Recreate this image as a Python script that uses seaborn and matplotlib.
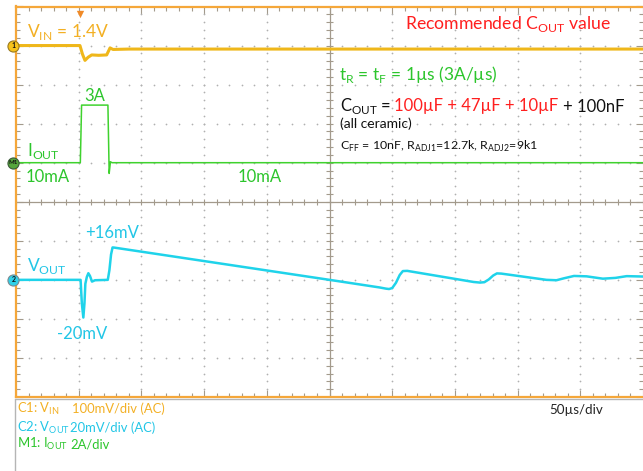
import numpy as np
import pandas as pd
import matplotlib
matplotlib.use("Agg")
import matplotlib.pyplot as plt
import seaborn as sns
from matplotlib.lines import Line2D

# scope settings
T_PER_DIV = 50      # us/div
VIN_PER_DIV = 100   # mV/div
VOUT_PER_DIV = 20   # mV/div
IOUT_PER_DIV = 2    # A/div
VIN_POS, IOUT_POS, VOUT_POS = 9, 6, 3   # channel offsets, divisions from bottom

# captured traces, time in us
vin_t = [0, 51.0, 53.0, 55.0, 57.5, 60.4, 66.0, 72.3, 75.0, 77.4, 90, 200, 500]
vin_mv = [0, 0, -22, -38, -30, -24, -25, -24, -6, -10, -9, -9, -9]

iout_t = [0, 51.3, 52.3, 73.3, 74.3, 75.3, 76.5, 500]
iout_a = [0, 0, 2.95, 2.95, -0.55, 0.05, 0, 0]

vout_t = [0, 51.5, 52.5, 53.7, 54.6, 55.3, 56.5, 57.7, 59.0, 60.6, 63.0, 73.2, 74.5,
          75.8, 77.0, 78.5, 250, 290, 295, 297.5, 300, 303, 306, 308.5, 312, 365,
          370, 373.5, 377, 380.5, 383.5, 387, 423, 431, 437, 445, 455, 468, 478,
          487, 500]
vout_mv = [0, 0, -12, -19.3, -12, -2, 1.5, 3.4, 2, -0.9, -0.2, 0, 5,
           13, 16.6, 16.5, 0, -3.9, -4.5, -4.7, -4.2, -1.5, 2.5, 4.5, 4.6, -1.1,
           -1.4, -1.2, 0.2, 2.2, 3.3, 3.2, 0, -0.2, 0.8, 2.0, 1.8, 0.6, 1.0,
           1.9, 1.7]

# colours
YELLOW = "#efb71a"
YEL_TXT = "#f3b024"
GREEN = "#3fd22e"
GRN_TXT = "#2cc52c"
CYAN = "#1fd3ea"
CYA_TXT = "#22c6e6"
RED = "#ff1f1f"
FRAME = "#f5a73a"
GRID = "#a39a8c"
DOT = "#b0b0b0"

W, H = 643, 471


def fx(px):
    return px / W


def fy(py):
    return 1 - py / H


sns.set_style("white")
plt.rcParams["font.family"] = ["Lato", "DejaVu Sans"]

fig = plt.figure(figsize=(W / 100, H / 100), dpi=100)
ax = fig.add_axes([fx(16), fy(397), (W - 16) / W, (397 - 6.5) / H])
ax.set_xlim(0, 10 * T_PER_DIV)
ax.set_ylim(0, 10)

# graticule: dotted divisions, solid centre lines with small ticks
xs = np.arange(0, 10 * T_PER_DIV + 1, T_PER_DIV / 5)
ys = np.arange(0, 10.01, 0.2)
for k in range(1, 10):
    if k == 5:
        continue
    ax.scatter(xs, np.full(len(xs), float(k)), s=1.6, c=DOT, lw=0, zorder=1)
    ax.scatter(np.full(len(ys), k * T_PER_DIV), ys, s=1.6, c=DOT, lw=0, zorder=1)
ax.axvline(5 * T_PER_DIV, color=GRID, lw=0.9, zorder=1)
ax.axhline(5, color=GRID, lw=0.9, zorder=1)
ax.vlines(xs, 5 - 0.08, 5 + 0.08, color=GRID, lw=0.8, zorder=1)
ax.hlines(ys, 5 * T_PER_DIV - 2.4, 5 * T_PER_DIV + 2.4, color=GRID, lw=0.8, zorder=1)

ax.set_xticks(np.arange(0, 501, T_PER_DIV))
ax.set_xticks(xs, minor=True)
ax.set_yticks(np.arange(0, 11, 1))
ax.set_yticks(ys, minor=True)
ax.tick_params(which="both", direction="in", top=True, right=True, bottom=True, left=True,
               labelbottom=False, labelleft=False, color=GRID, width=0.8)
ax.tick_params(which="major", length=5)
ax.tick_params(which="minor", length=2.6)
for side in ["left", "top", "bottom"]:
    ax.spines[side].set_color(FRAME)
    ax.spines[side].set_linewidth(1.6)
ax.spines["right"].set_visible(False)

# traces
df_vin = pd.DataFrame({"t": vin_t, "y": VIN_POS + np.array(vin_mv) / VIN_PER_DIV})
df_iout = pd.DataFrame({"t": iout_t, "y": IOUT_POS + np.array(iout_a) / IOUT_PER_DIV})
df_vout = pd.DataFrame({"t": vout_t, "y": VOUT_POS + np.array(vout_mv) / VOUT_PER_DIV})
sns.lineplot(data=df_vin, x="t", y="y", ax=ax, color=YELLOW, lw=2.2, estimator=None, sort=False, zorder=3)
sns.lineplot(data=df_iout, x="t", y="y", ax=ax, color=GREEN, lw=1.1, estimator=None, sort=False, zorder=3)
sns.lineplot(data=df_vout, x="t", y="y", ax=ax, color=CYAN, lw=1.8, estimator=None, sort=False, zorder=3)
ax.set_xlabel("")
ax.set_ylabel("")

# channel markers on the left edge and trigger marker
mx = -2.0
for pos, face, edge, lab in [(VIN_POS, "#f6c21a", "#9a7a20", "1"),
                             (IOUT_POS, "#55a53c", "#3d5a3a", "M1"),
                             (VOUT_POS, "#2fd0e8", "#7a8a90", "2")]:
    ax.scatter([mx], [pos], s=64, c=face, edgecolors=edge, linewidths=0.8,
               clip_on=False, zorder=6)
    ax.text(mx, pos, lab, ha="center", va="center", fontsize=5 if len(lab) == 1 else 4.3,
            color="#111111", fontweight="bold", clip_on=False, zorder=7)
ax.scatter([51.0], [9.8], marker="v", s=28, c="#f08a28", lw=0, clip_on=False, zorder=6)


def label(px, py, s, color, size, **kw):
    fig.text(fx(px), fy(py), s, color=color, fontsize=size, ha="left", va="baseline", **kw)


# trace annotations
label(27, 37, r"V$_{\mathregular{IN}}$ = 1.4V", YEL_TXT, 12.5)
label(84, 101, "3A", GRN_TXT, 12)
label(27.5, 156, r"I$_{\mathregular{OUT}}$", GRN_TXT, 12.5)
label(26, 182, "10mA", GRN_TXT, 12)
label(238, 182, "10mA", GRN_TXT, 12)
label(85, 238, "+16mV", CYA_TXT, 12)
label(27, 271, r"V$_{\mathregular{OUT}}$", CYA_TXT, 12.5)
label(57, 339, "-20mV", CYA_TXT, 12)

# test conditions
label(405, 29.5, r"Recommended C$_{\mathregular{OUT}}$ value", RED, 12.7)
label(339, 80, r"t$_{\mathregular{R}}$ = t$_{\mathregular{F}}$ = 1µs (3A/µs)", GRN_TXT, 12.5)
label(340, 111.5, r"C$_{\mathregular{OUT}}$ =", "#111111", 12)
label(394, 111.5, "100µF + 47µF + 10µF", RED, 12)
label(563, 111.5, "+ 100nF", "#111111", 12)
label(340, 128, "(all ceramic)", "#111111", 10)
label(340, 150, r"C$_{\mathregular{FF}}$ = 10nF, R$_{\mathregular{ADJ1}}$=12.7k, "
                r"R$_{\mathregular{ADJ2}}$=9k1", "#111111", 8.9)

# settings panel under the screen
fig.add_artist(Line2D([fx(15.5), fx(15.5)], [fy(398.5), 0], color="#b5b5b5", lw=1))
fig.add_artist(Line2D([fx(15.5), 1], [fy(398.5), fy(398.5)], color="#b5b5b5", lw=1))
label(17, 413.3, r"C1: V$_{\mathregular{IN}}$", YEL_TXT, 9.4)
label(71.7, 413.3, "100mV/div (AC)", YEL_TXT, 9.4)
label(17, 431.7, r"C2: V$_{\mathregular{OUT}}$", CYA_TXT, 9.4)
label(70, 431.7, "20mV/div (AC)", CYA_TXT, 9.4)
label(17, 448.3, r"M1: I$_{\mathregular{OUT}}$", GRN_TXT, 9.4)
label(70, 448.3, "2A/div", GRN_TXT, 9.4)
label(549, 414, "50µs/div", "#222222", 9.6)

fig.savefig("out.png", dpi=100)
